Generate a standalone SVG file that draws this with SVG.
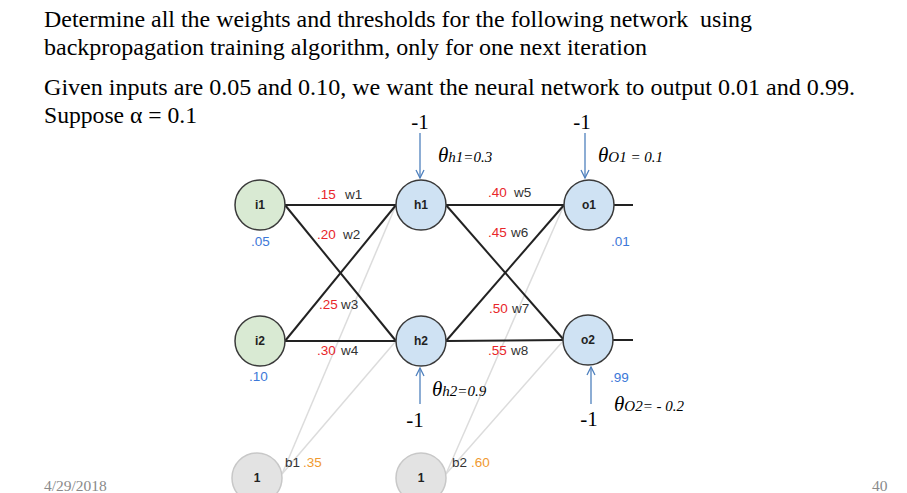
<svg xmlns="http://www.w3.org/2000/svg" width="907" height="493" viewBox="0 0 907 493">
<style>
.hdr{font-family:"Liberation Serif","Times New Roman",serif;font-size:23px;fill:#000}
.node{stroke:#3a3a3a;stroke-width:1.5}
.in{fill:#d9ead3}
.hid{fill:#cfe2f3}
.bias{fill:#e3e3e3;stroke:#c8c8c8;stroke-width:1.5}
.nl{font-family:"Liberation Sans",Arial,sans-serif;font-size:12px;font-weight:bold;fill:#222;text-anchor:middle}
.lbl{font-family:"Liberation Sans",Arial,sans-serif;font-size:13.5px;fill:#333}
.red{fill:#e8262a}
.blue{fill:#3c78d8}
.org{fill:#f09a30}
.conn{stroke:#222;stroke-width:2;fill:none}
.bl{stroke:#dcdcdc;stroke-width:1.5;fill:none}
.arr{stroke:#4f81bd;stroke-width:1.3;fill:none}
.m1{font-family:"Liberation Serif","Times New Roman",serif;font-size:21px;fill:#000;text-anchor:middle}
.th{font-family:"Liberation Serif","Times New Roman",serif;font-style:italic;fill:#000}
.ft{font-family:"Liberation Serif","Times New Roman",serif;font-size:15.5px;fill:#8a8a8a}
</style>
<defs>
<marker id="ah" viewBox="0 0 10 10" refX="9" refY="5" markerWidth="10" markerHeight="10" markerUnits="userSpaceOnUse" orient="auto">
<path d="M1,1 L9,5 L1,9" fill="none" stroke="#4f81bd" stroke-width="1.3"/>
</marker>
</defs>
<rect width="907" height="493" fill="#fff"/>
<g id="header">
<text class="hdr" x="44" y="27" textLength="708" lengthAdjust="spacingAndGlyphs" xml:space="preserve">Determine all the weights and thresholds for the following network  using</text>
<text class="hdr" x="44" y="55" textLength="603" lengthAdjust="spacingAndGlyphs">backpropagation training algorithm, only for one next iteration</text>
<text class="hdr" x="44" y="95" textLength="811" lengthAdjust="spacingAndGlyphs">Given inputs are 0.05 and 0.10, we want the neural network to output 0.01 and 0.99.</text>
<text class="hdr" x="44" y="123" textLength="153" lengthAdjust="spacingAndGlyphs">Suppose α = 0.1</text>
</g>
<g id="connectors">
<line class="bl" x1="282" y1="474" x2="396" y2="205"/>
<line class="bl" x1="282" y1="474" x2="396" y2="341"/>
<line class="bl" x1="446" y1="474" x2="564" y2="205"/>
<line class="bl" x1="446" y1="474" x2="564" y2="340"/>
<line class="conn" x1="285" y1="205" x2="396" y2="205"/>
<line class="conn" x1="285" y1="205" x2="396" y2="341"/>
<line class="conn" x1="285" y1="341" x2="396" y2="205"/>
<line class="conn" x1="285" y1="341" x2="396" y2="341"/>
<line class="conn" x1="446" y1="205" x2="564" y2="205"/>
<line class="conn" x1="446" y1="205" x2="564" y2="340"/>
<line class="conn" x1="446" y1="341" x2="564" y2="205"/>
<line class="conn" x1="446" y1="341" x2="564" y2="340"/>
<line class="conn" x1="614" y1="205" x2="633" y2="205"/>
<line class="conn" x1="613" y1="340" x2="633" y2="340"/>
<line class="arr" x1="420" y1="133" x2="420" y2="178" marker-end="url(#ah)"/>
<line class="arr" x1="585" y1="133" x2="585" y2="178" marker-end="url(#ah)"/>
<line class="arr" x1="420" y1="404" x2="420" y2="368" marker-end="url(#ah)"/>
<line class="arr" x1="591" y1="404" x2="591" y2="367" marker-end="url(#ah)"/>
</g>
<g id="edge-labels">
<text class="lbl" x="317" y="199"><tspan class="red">.15</tspan><tspan x="345">w1</tspan></text>
<text class="lbl" x="317" y="239"><tspan class="red">.20</tspan><tspan x="343">w2</tspan></text>
<text class="lbl" x="319" y="309"><tspan class="red">.25</tspan><tspan x="341">w3</tspan></text>
<text class="lbl" x="317" y="355"><tspan class="red">.30</tspan><tspan x="341">w4</tspan></text>
<text class="lbl" x="488" y="197"><tspan class="red">.40</tspan><tspan x="514">w5</tspan></text>
<text class="lbl" x="488" y="237"><tspan class="red">.45</tspan><tspan x="511">w6</tspan></text>
<text class="lbl" x="489" y="313"><tspan class="red">.50</tspan><tspan x="512">w7</tspan></text>
<text class="lbl" x="488" y="355"><tspan class="red">.55</tspan><tspan x="511">w8</tspan></text>
<text class="lbl" x="285" y="467">b1<tspan class="org" x="303">.35</tspan></text>
<text class="lbl" x="452" y="467">b2<tspan class="org" x="471">.60</tspan></text>
</g>
<g id="i1"><circle class="node in" cx="260" cy="205" r="25"/><text class="nl" x="260" y="209">i1</text><text class="lbl blue" x="251" y="246">.05</text></g>
<g id="i2"><circle class="node in" cx="260" cy="341" r="25"/><text class="nl" x="260" y="345">i2</text><text class="lbl blue" x="249" y="381">.10</text></g>
<g id="h1"><circle class="node hid" cx="421" cy="205" r="25"/><text class="nl" x="421" y="209">h1</text></g>
<g id="h2"><circle class="node hid" cx="421" cy="341" r="25"/><text class="nl" x="421" y="345">h2</text></g>
<g id="o1"><circle class="node hid" cx="589" cy="205" r="25"/><text class="nl" x="589" y="209">o1</text><text class="lbl blue" x="611" y="246">.01</text></g>
<g id="o2"><circle class="node hid" cx="588" cy="340" r="25"/><text class="nl" x="588" y="344">o2</text><text class="lbl blue" x="610" y="382">.99</text></g>
<g id="b1"><circle class="bias" cx="257" cy="478" r="25"/><text class="nl" x="257" y="482">1</text></g>
<g id="b2"><circle class="bias" cx="421" cy="478" r="25"/><text class="nl" x="421" y="482">1</text></g>
<g id="thresholds">
<text class="m1" x="420" y="129">-1</text>
<text class="m1" x="582" y="129">-1</text>
<text class="m1" x="415" y="427">-1</text>
<text class="m1" x="589" y="426">-1</text>
<text class="th" x="438" y="162"><tspan font-size="21">θ</tspan><tspan font-size="15">h1=0.3</tspan></text>
<text class="th" x="598" y="162"><tspan font-size="21">θ</tspan><tspan font-size="15">O1 = 0.1</tspan></text>
<text class="th" x="432" y="396"><tspan font-size="21">θ</tspan><tspan font-size="15">h2=0.9</tspan></text>
<text class="th" x="614" y="411"><tspan font-size="21">θ</tspan><tspan font-size="15">O2= - 0.2</tspan></text>
</g>
<g id="footer">
<text class="ft" x="44" y="491">4/29/2018</text>
<text class="ft" x="872" y="491">40</text>
</g>
</svg>
